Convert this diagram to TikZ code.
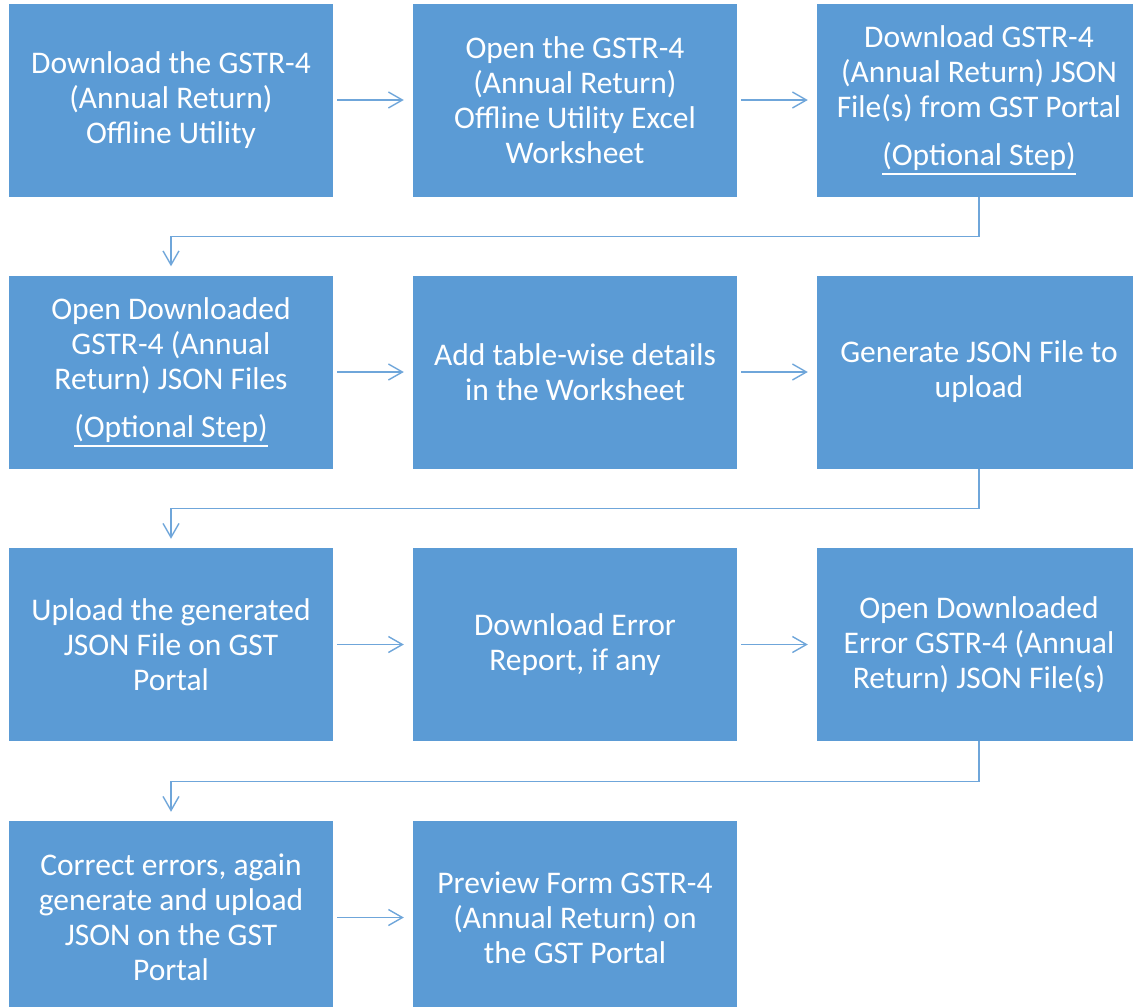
\documentclass[tikz,border=0pt]{standalone}
\usepackage{fontspec}
\setmainfont{Carlito}
\usetikzlibrary{arrows.meta}
\definecolor{boxblue}{HTML}{5B9BD5}
\definecolor{lineblue}{HTML}{6FA6DA}
\newcommand\myul[1]{\leavevmode\vtop{\hbox{#1}\kern3pt\hrule height 1.6pt}}
\tikzset{
  stepbox/.style={fill=boxblue, draw=none, minimum width=324pt, minimum height=193pt,
    inner sep=0pt, text=white, align=center, font=\fontsize{31.5}{35}\selectfont},
  conn/.style={draw=lineblue, line width=1.4pt, -{Straight Barb[length=14pt,width=16pt,line width=1.4pt]}}
}
\begin{document}
\begin{tikzpicture}[x=1pt,y=1pt]
\useasboundingbox (0,0) rectangle (1133,-1007);
% row 1
\node[stepbox] (a1) at (171,-100) {Download the GSTR-4\\(Annual Return)\\Offline Utility};
\node[stepbox] (a2) at (575,-100) {Open the GSTR-4\\(Annual Return)\\Offline Utility Excel\\Worksheet};
\node[stepbox] (a3) at (979,-100) {Download GSTR-4\\(Annual Return) JSON\\File(s) from GST Portal\\[13pt]\myul{(Optional Step)}};
% row 2
\node[stepbox] (b1) at (171,-372) {Open Downloaded\\GSTR-4 (Annual\\Return) JSON Files\\[13pt]\myul{(Optional Step)}};
\node[stepbox] (b2) at (575,-372) {Add table-wise details\\in the Worksheet};
\node[stepbox] (b3) at (979,-372) {Generate JSON File to\\upload};
% row 3
\node[stepbox] (c1) at (171,-644.5) {Upload the generated\\JSON File on GST\\Portal};
\node[stepbox] (c2) at (575,-644.5) {Download Error\\Report, if any};
\node[stepbox] (c3) at (979,-644.5) {Open Downloaded\\Error GSTR-4 (Annual\\Return) JSON File(s)};
% row 4
\node[stepbox] (d1) at (171,-917.5) {Correct errors, again\\generate and upload\\JSON on the GST\\Portal};
\node[stepbox] (d2) at (575,-917.5) {Preview Form GSTR-4\\(Annual Return) on\\the GST Portal};
% horizontal connectors
\foreach \u/\v in {a1/a2,a2/a3,b1/b2,b2/b3,c1/c2,c2/c3,d1/d2}{
  \draw[conn] ([xshift=4pt]\u.east) -- ([xshift=-9pt]\v.west);
}
% elbow connectors
\draw[conn] (a3.south) -- ++(0,-40) -| ([yshift=9pt]b1.north);
\draw[conn] (b3.south) -- ++(0,-40) -| ([yshift=9pt]c1.north);
\draw[conn] (c3.south) -- ++(0,-40) -| ([yshift=9pt]d1.north);
\end{tikzpicture}
\end{document}
